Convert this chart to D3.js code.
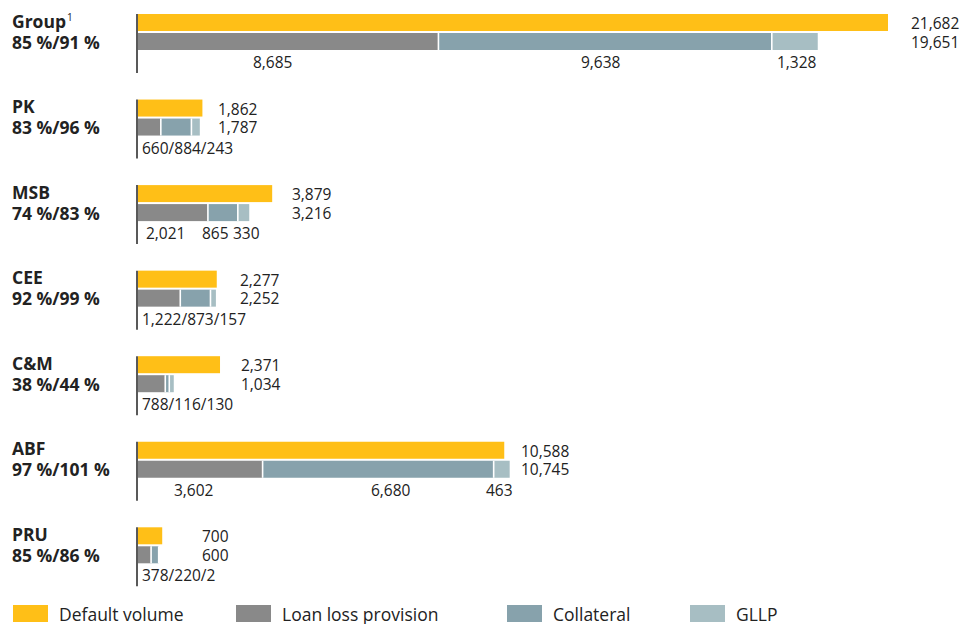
<!DOCTYPE html>
<html><head><meta charset="utf-8">
<script src="https://cdn.jsdelivr.net/npm/d3@7/dist/d3.min.js"></script>
<style>
html,body{margin:0;padding:0;background:#fff;}
svg{display:block;}
text{font-family:"Open Sans","Noto Sans",sans-serif;fill:#222;}
</style></head>
<body>
<svg id="chart" width="961" height="624"></svg>
<script>
// ---- data ----
const groups = ["Group", "PK", "MSB", "CEE", "C&M", "ABF", "PRU"];
const coverage = ["85 %/91 %", "83 %/96 %", "74 %/83 %", "92 %/99 %", "38 %/44 %", "97 %/101 %", "85 %/86 %"];
const defaultVolume = [21682, 1862, 3879, 2277, 2371, 10588, 700];
const loanLossProvision = [8685, 660, 2021, 1222, 788, 3602, 378];
const collateral = [9638, 884, 865, 873, 116, 6680, 220];
const gllp = [1328, 243, 330, 157, 130, 463, 2];
const seriesNames = ["Default volume", "Loan loss provision", "Collateral", "GLLP"];

// ---- layout / style ----
const colors = ["#FFBF17", "#898989", "#87A2AC", "#A7BEC3"];
const rightLabelX = [911, 218, 292, 240, 241, 521, 202];
const splitLabelX = {0: [253, 581, 777], 2: [146, 202, 233], 5: [174, 371, 486]};
const legendX = [13, 236, 507, 690];

const fmt = d3.format(",");
const svg = d3.select("#chart");

const x = d3.scaleLinear().domain([0, d3.max(defaultVolume)]).range([138, 888]);
const y = d3.scaleBand().domain(groups).range([14, 14 + 85.55 * groups.length]).padding(0);

const barH = 17;
groups.forEach((g, i) => {
  const t = y(g);
  const G = svg.append("g");
  G.append("rect").attr("x", x(0)).attr("y", t).attr("width", x(defaultVolume[i]) - x(0)).attr("height", barH).attr("fill", colors[0]);
  const segs = [loanLossProvision[i], collateral[i], gllp[i]];
  let cum = 0;
  const bounds = [];
  segs.forEach((v, k) => {
    G.append("rect").attr("x", x(cum)).attr("y", t + 19).attr("width", x(cum + v) - x(cum)).attr("height", barH).attr("fill", colors[k + 1]);
    cum += v;
    if (k < 2) bounds.push(x(cum));
  });
  bounds.forEach(b => {
    G.append("line").attr("x1", b).attr("x2", b).attr("y1", t + 19).attr("y2", t + 19 + barH).attr("stroke", "#fff").attr("stroke-width", 1.6);
  });
  const total = d3.sum(segs);
  G.append("line").attr("x1", 137).attr("x2", 137).attr("y1", t).attr("y2", t + 59).attr("stroke", "#222").attr("stroke-width", 1.5);
  G.append("text").attr("x", rightLabelX[i]).attr("y", t + 15).attr("font-size", 15.5).text(fmt(defaultVolume[i]));
  G.append("text").attr("x", rightLabelX[i]).attr("y", t + 33.5).attr("font-size", 15.5).text(fmt(total));
  if (splitLabelX[i]) {
    segs.forEach((v, k) => {
      G.append("text").attr("x", splitLabelX[i][k]).attr("y", t + 54).attr("font-size", 15.5).text(fmt(v));
    });
  } else {
    G.append("text").attr("x", 142).attr("y", t + 54).attr("font-size", 15.5).text(segs.map(fmt).join("/"));
  }
  const name = G.append("text").attr("x", 12).attr("y", t + 13.5).attr("font-size", 17.5).attr("font-weight", 700).text(g);
  if (i === 0) name.append("tspan").attr("font-size", 10).attr("font-weight", 400).attr("dy", -7).attr("dx", 1).text("1");
  G.append("text").attr("x", 12).attr("y", t + 34.5).attr("font-size", 17.5).attr("font-weight", 700).text(coverage[i]);
});

seriesNames.forEach((n, k) => {
  svg.append("rect").attr("x", legendX[k]).attr("y", 605).attr("width", 35).attr("height", 17).attr("fill", colors[k]);
  svg.append("text").attr("x", legendX[k] + 46).attr("y", 621).attr("font-size", 17.5).text(n);
});
</script>
</body></html>
